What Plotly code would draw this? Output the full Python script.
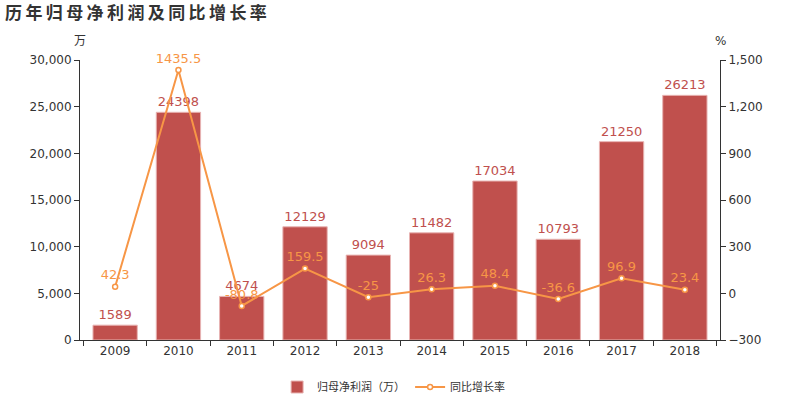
import plotly.graph_objects as go

years = ["2009", "2010", "2011", "2012", "2013", "2014", "2015", "2016", "2017", "2018"]
profit = [1589, 24398, 4674, 12129, 9094, 11482, 17034, 10793, 21250, 26213]
growth = [42.3, 1435.5, -80.8, 159.5, -25, 26.3, 48.4, -36.6, 96.9, 23.4]
growth_labels = ["42.3", "1435.5", "-80.8", "159.5", "-25", "26.3", "48.4", "-36.6", "96.9", "23.4"]

bar_color = "#c0504d"
line_color = "#f79646"
font = "DejaVu Sans"
cjk = "Noto Sans CJK SC"
title_text = "历年归母净利润及同比增长率"

fig = go.Figure()
fig.add_trace(go.Bar(
    x=years, y=profit, name="归母净利润（万）",
    marker=dict(color=bar_color, line=dict(color="#e8b4b3", width=1)),
    text=[str(v) for v in profit], textposition="outside",
    textfont=dict(color=bar_color, size=13, family=font),
    cliponaxis=False, width=0.7,
))
fig.add_trace(go.Scatter(
    x=years, y=growth, name="同比增长率", yaxis="y2",
    mode="lines+markers+text",
    line=dict(color=line_color, width=2),
    marker=dict(size=5, color="white", line=dict(color=line_color, width=1.5)),
    text=growth_labels, textposition="top center",
    textfont=dict(color=line_color, size=13, family=font),
    cliponaxis=False,
))

axis_common = dict(
    showgrid=False, zeroline=False, showline=True, linecolor="#333", linewidth=1,
    ticks="outside", ticklen=5, tickcolor="#333",
    tickfont=dict(size=12, color="#333", family=font),
)

fig.update_layout(
    width=800, height=400,
    margin=dict(l=80, r=80, t=60, b=60, autoexpand=False),
    paper_bgcolor="white", plot_bgcolor="white",
    font=dict(family=font, color="#333"),
    showlegend=True,
    legend=dict(orientation="h", x=0.49, xanchor="center", y=13 / 400, yref="container", yanchor="middle",
                font=dict(size=11, color="#333", family=cjk)),
    xaxis=dict(**axis_common, tickson="boundaries", type="category"),
    yaxis=dict(**axis_common, range=[0, 30000], tickvals=[0, 5000, 10000, 15000, 20000, 25000, 30000],
               tickformat=","),
    yaxis2=dict(**axis_common, overlaying="y", side="right", range=[-300, 1500],
                tickvals=[-300, 0, 300, 600, 900, 1200, 1500], tickformat=","),
    title=dict(text="<b>" + "\u2009".join(title_text) + "</b>", x=5 / 800, xref="container", xanchor="left",
               y=1 - 13 / 400, yref="container", yanchor="middle",
               font=dict(size=17, color="#333", family=cjk)),
    annotations=[
        dict(text="万", x=0, y=1.035, xref="paper", yref="paper", xanchor="center", yanchor="bottom",
             showarrow=False, font=dict(size=12, color="#333", family=cjk)),
        dict(text="%", x=1, y=1.035, xref="paper", yref="paper", xanchor="center", yanchor="bottom",
             showarrow=False, font=dict(size=12, color="#333", family=font)),
    ],
)
fig.write_html("out.html")
